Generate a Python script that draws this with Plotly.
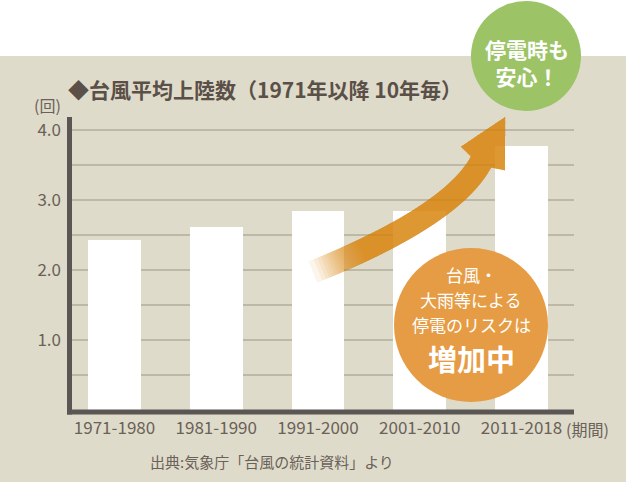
import numpy as np
import plotly.graph_objects as go

# ---- data ----
periods = ["1971-1980", "1981-1990", "1991-2000", "2001-2010", "2011-2018"]
avg_landings = [2.43, 2.61, 2.84, 2.84, 3.77]
y_tick_vals = [0.5, 1.0, 1.5, 2.0, 2.5, 3.0, 3.5, 4.0]
y_tick_text = ["", "1.0", "", "2.0", "", "3.0", "", "4.0"]

title_text = "◆台風平均上陸数（1971年以降 10年毎）"
unit_text = "(回)"
period_text = "(期間)"
source_text = "出典:気象庁「台風の統計資料」より"
green_text = ["停電時も", "安心！"]
orange_text = ["台風・", "大雨等による", "停電のリスクは"]
orange_big = "増加中"

# ---- geometry ----
W, H = 626, 482
L, R, T, B = 70, 52, 117, 72
PW, PH = W - L - R, H - T - B

def px(x):
    return (x - L) / PW

def py(y):
    return (H - B - y) / PH

BG = "#DFDBCB"
TXT = "#5B5047"
TICK = "#6A6158"
FONT = "Noto Sans CJK JP"

fig = go.Figure()
fig.add_trace(go.Bar(
    x=periods, y=avg_landings, width=0.52,
    marker=dict(color="white", line=dict(width=0)),
    hoverinfo="x+y",
))

shapes = []
# white top band
shapes.append(dict(type="rect", xref="paper", yref="paper",
                   x0=px(0), x1=px(W), y0=py(56), y1=py(0),
                   fillcolor="white", line=dict(width=0), layer="below"))
# axis lines
AX = "#5A5653"
shapes.append(dict(type="rect", xref="paper", yref="paper",
                   x0=px(67), x1=px(72), y0=py(414.5), y1=py(117),
                   fillcolor=AX, line=dict(width=0)))
shapes.append(dict(type="rect", xref="paper", yref="paper",
                   x0=px(67), x1=px(574), y0=py(414.5), y1=py(409.5),
                   fillcolor=AX, line=dict(width=0)))

# curved arrow (decoration) built in pixel space
P0 = np.array([313.0, 272.0]); P1 = np.array([452.0, 216.0]); P2 = np.array([481.0, 162.0])

def bez(t):
    return (1 - t) ** 2 * P0 + 2 * (1 - t) * t * P1 + t ** 2 * P2

def dbez(t):
    return 2 * (1 - t) * (P1 - P0) + 2 * t * (P2 - P1)

def arrow_path(t0, half=11.5):
    ts = np.linspace(t0, 1, 40)
    up, lo = [], []
    for t in ts:
        p = bez(t); d = dbez(t); d = d / np.linalg.norm(d)
        n = np.array([d[1], -d[0]])
        up.append(p + half * n); lo.append(p - half * n)
    d = dbez(1.0); d = d / np.linalg.norm(d); n = np.array([d[1], -d[0]])
    base = P2 + 4 * d
    left = base + 25 * n
    right = base - 25 * n
    tip = P2 + 51 * d
    pts = up + [left, tip, right] + lo[::-1]
    s = "M " + " L ".join(f"{px(q[0]):.5f},{py(q[1]):.5f}" for q in pts) + " Z"
    return s

K = 20
a = 1 - 0.18 ** (1 / K)
for k in range(K):
    t0 = 0.2 * (k / K) ** 0.8
    shapes.append(dict(type="path", xref="paper", yref="paper", path=arrow_path(t0),
                       fillcolor="#D6820F", opacity=a, line=dict(width=0)))

# circles
def circle(cx, cy, r, color):
    return dict(type="circle", xref="paper", yref="paper",
                x0=px(cx - r), x1=px(cx + r), y0=py(cy + r), y1=py(cy - r),
                fillcolor=color, line=dict(width=0))

shapes.append(circle(526, 56, 55, "#9CC467"))
shapes.append(circle(471, 325, 77, "#E69C44"))

annotations = []
def ann(text, x, y, size, color, bold=False, xanchor="center"):
    annotations.append(dict(text=text, xref="paper", yref="paper", x=px(x), y=py(y),
                            xanchor=xanchor, yanchor="middle", showarrow=False,
                            font=dict(family=FONT, size=size, color=color,
                                      weight="bold" if bold else "normal")))

ann(title_text, 66, 88.5, 21, TXT, bold=True, xanchor="left")
ann(unit_text, 47, 105, 16, TICK)
ann(period_text, 587, 429, 16, TICK)
ann(source_text, 272, 461, 15, TICK)
ann("<br>".join(green_text), 527, 62, 21, "white", bold=True)
for txt, yy in zip(orange_text, [274, 299, 324]):
    ann(txt, 471, yy, 17, "white")
ann(orange_big, 471, 358, 29, "white", bold=True)

fig.update_layout(
    width=W, height=H,
    margin=dict(l=L, r=R, t=T, b=B, pad=0),
    paper_bgcolor=BG, plot_bgcolor=BG,
    showlegend=False,
    bargap=0,
    font=dict(family=FONT, color=TICK),
    xaxis=dict(type="category", range=[-0.4373, 4.516], showgrid=False,
               showline=False, zeroline=False, ticks="",
               tickfont=dict(family=FONT, size=17, color=TICK),
               ticklabelstandoff=6, fixedrange=True),
    yaxis=dict(range=[0, 4.1857], tickmode="array", tickvals=y_tick_vals,
               ticktext=y_tick_text, showgrid=True, gridcolor="#BEB9A7",
               gridwidth=1.5, showline=False, zeroline=False, ticks="",
               tickfont=dict(family=FONT, size=17, color=TICK),
               ticklabelstandoff=8, fixedrange=True),
    shapes=shapes,
    annotations=annotations,
)

fig.write_html("out.html")
